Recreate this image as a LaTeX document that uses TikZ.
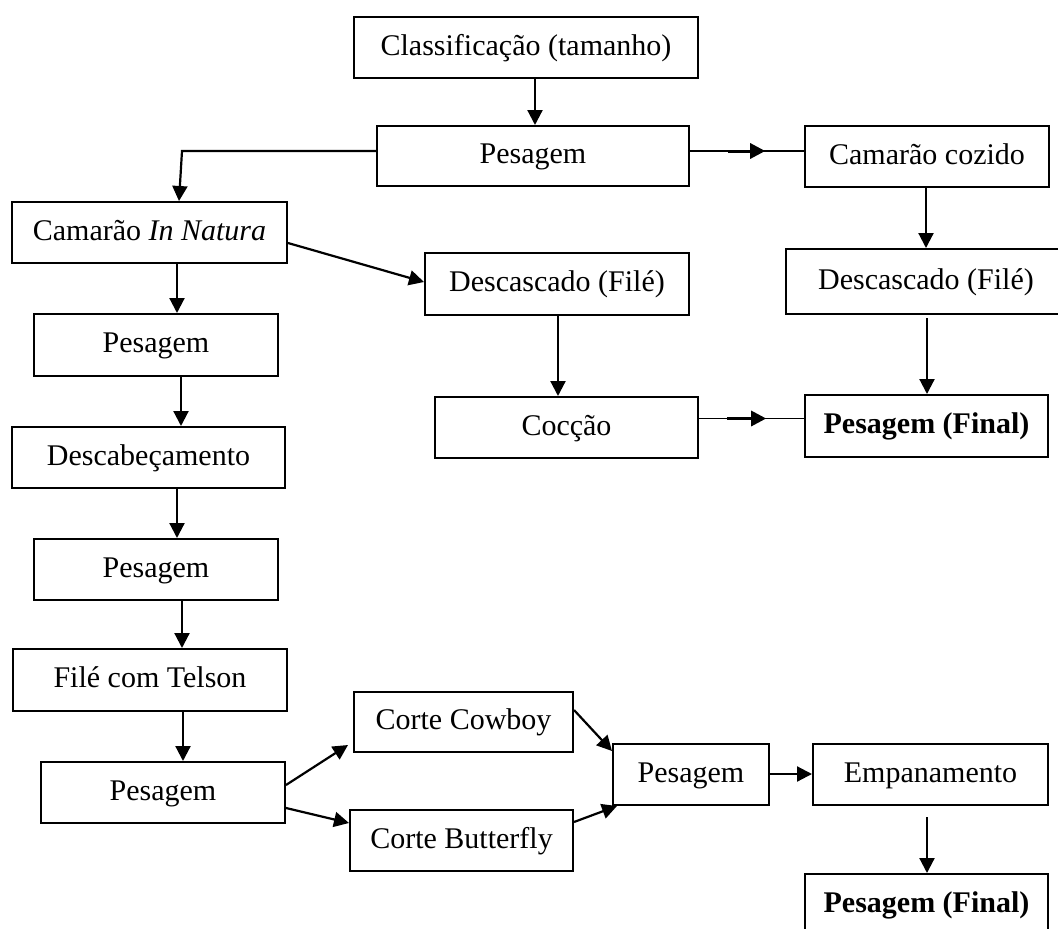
\documentclass[tikz,border=0pt]{standalone}
\usepackage{fontspec}
\setmainfont{Liberation Serif}
\usetikzlibrary{arrows.meta,calc}
\begin{document}
\begin{tikzpicture}[x=1pt,y=-1pt,
  box/.style={draw,line width=2pt,inner sep=0pt,font=\fontsize{30}{36}\selectfont,text height=23pt,text depth=8pt},
  arr/.style={line width=2.2pt,-{Triangle[length=15pt,width=15pt]}},
  thinline/.style={line width=1.2pt},
  midarr/.style={line width=3pt,-{Triangle[length=15pt,width=15pt]}}]
\useasboundingbox (0,0) rectangle (1058,929);
\clip (0,0) rectangle (1058,929);
\fill[white] (0,0) rectangle (1058,929);

% nodes
\node[box,minimum width=344pt,minimum height=61pt] (cls) at (526,47.5) {Classificação (tamanho)};
\node[box,minimum width=312pt,minimum height=60pt] (pes1) at (533,156) {Pesagem};
\node[box,minimum width=244pt,minimum height=61pt] (coz) at (927,156.5) {Camarão cozido};
\node[box,minimum width=275pt,minimum height=61pt] (inn) at (149.5,232.5) {Camarão \textit{In Natura}};
\node[box,minimum width=264pt,minimum height=62pt] (desc1) at (557,284) {Descascado (Filé)};
\node[box,minimum width=280pt,minimum height=65pt] (desc2) at (926,281.5) {Descascado (Filé)};
\node[box,minimum width=244pt,minimum height=62pt] (pes2) at (156,345) {Pesagem};
\node[box,minimum width=263pt,minimum height=61pt] (coc) at (566.5,427.5) {Cocção};
\node[box,minimum width=243pt,minimum height=62pt] (fin1) at (926.5,426) {\textbf{Pesagem (Final)}};
\node[box,minimum width=273pt,minimum height=61pt] (dcb) at (148.5,457.5) {Descabeçamento};
\node[box,minimum width=244pt,minimum height=61pt] (pes3) at (156,569.5) {Pesagem};
\node[box,minimum width=274pt,minimum height=62pt] (fct) at (150,680) {Filé com Telson};
\node[box,minimum width=244pt,minimum height=61pt] (pes4) at (163,792.5) {Pesagem};
\node[box,minimum width=219pt,minimum height=60pt] (cow) at (463.5,722) {Corte Cowboy};
\node[box,minimum width=223pt,minimum height=61pt] (but) at (461.5,840.5) {Corte Butterfly};
\node[box,minimum width=156pt,minimum height=61pt] (pes5) at (691,774.5) {Pesagem};
\node[box,minimum width=235pt,minimum height=61pt] (emp) at (930.5,774.5) {Empanamento};
\node[box,minimum width=243pt,minimum height=62pt] (fin2) at (926.5,905) {\textbf{Pesagem (Final)}};

% connectors
\draw[arr] (cls.south -| 535,0) -- (pes1.north -| 535,0);
\coordinate (corner) at (182,151);
\draw[arr] (pes1.west |- 0,151) -- (corner) -- (inn.north -| 179,0);
\draw[thinline] (pes1.east |- 0,151) -- (coz.west |- 0,151);
\draw[midarr] ($(pes1.east |- 0,151)!0.33!(coz.west |- 0,151)$) -- ($(pes1.east |- 0,151)!0.66!(coz.west |- 0,151)$);
\draw[arr] (coz.south -| 926,0) -- (desc2.north -| 926,0);
\draw[arr] (inn.east |- 0,243) -- (desc1.west |- 0,282);
\draw[arr] (inn.south -| 177,0) -- (pes2.north -| 177,0);
\draw[arr] (desc1.south -| 558,0) -- (coc.north -| 558,0);
\draw[arr] ([yshift=-3pt]desc2.south -| 927,0) -- (fin1.north -| 927,0);
\draw[thinline] (coc.east |- 0,418.5) -- (fin1.west |- 0,418.5);
\draw[midarr] ($(coc.east |- 0,418.5)!0.27!(fin1.west |- 0,418.5)$) -- ($(coc.east |- 0,418.5)!0.64!(fin1.west |- 0,418.5)$);
\draw[arr] (pes2.south -| 181,0) -- (dcb.north -| 181,0);
\draw[arr] (dcb.south -| 177,0) -- (pes3.north -| 177,0);
\draw[arr] (pes3.south -| 182,0) -- (fct.north -| 182,0);
\draw[arr] (fct.south -| 183,0) -- (pes4.north -| 183,0);
\draw[arr] (pes4.east |- 0,785) -- ([xshift=-5pt]cow.south west |- 0,745);
\draw[arr] (pes4.east |- 0,808) -- (but.west |- 0,823);
\draw[arr] (cow.east |- 0,710) -- (pes5.west |- 0,751);
\draw[arr] (but.east |- 0,822) -- ([xshift=5pt]pes5.south west);
\draw[arr] (pes5.east |- 0,774) -- (emp.west |- 0,774);
\draw[arr] ([yshift=-11pt]emp.south -| 927,0) -- (fin2.north -| 927,0);
\end{tikzpicture}
\end{document}
